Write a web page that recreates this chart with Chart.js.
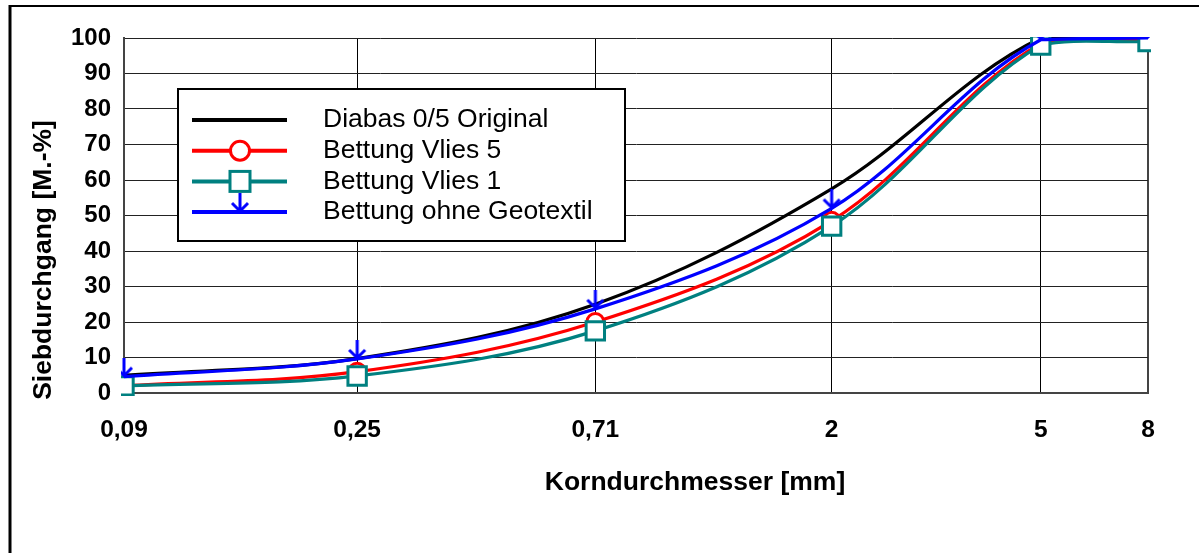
<!DOCTYPE html>
<html>
<head>
<meta charset="utf-8">
<script src="https://cdn.jsdelivr.net/npm/chart.js@4"></script>
<style>
  body { margin: 0; background: #fff; }
</style>
</head>
<body>
<canvas id="chart" width="1199" height="553"></canvas>
<script>
// grain size in mm (log axis) and passing percentages
const sizes = [0.09, 0.25, 0.71, 2, 5, 8];
const xTickLabels = ['0,09', '0,25', '0,71', '2', '5', '8'];
const seriesNames = ['Diabas 0/5 Original', 'Bettung Vlies 5', 'Bettung Vlies 1', 'Bettung ohne Geotextil'];
const original = [5, 9.7, 25, 57.5, 100, 100];
const vlies5 = [2, 6, 20, 48.5, 98.5, 99.5];
const vlies1 = [2, 4.8, 17.5, 47, 98, 99];
const ohneGeo = [4.6, 9.6, 23.7, 52, 99.5, 100];

const FONT = "'Liberation Sans', Arial, sans-serif";

// downward arrow marker, tip sits at the canvas centre
function arrowMarker(color) {
  const w = 20, h = 19;
  const c = document.createElement('canvas');
  c.width = w; c.height = h * 2;
  const g = c.getContext('2d');
  g.strokeStyle = color;
  g.lineWidth = 3;
  g.beginPath();
  g.moveTo(w / 2, 0); g.lineTo(w / 2, h);
  g.moveTo(2, h - 9); g.lineTo(w / 2, h - 1); g.lineTo(w - 2, h - 9);
  g.stroke();
  return c;
}
const arrow = arrowMarker('#0000ff');

const toPoints = arr => sizes.map((x, i) => ({ x: x, y: arr[i] }));

const datasets = [
  { label: seriesNames[0], data: toPoints(original), borderColor: '#000000', pointRadius: 0, order: 3 },
  { label: seriesNames[1], data: toPoints(vlies5), borderColor: '#ff0000', pointStyle: 'circle', pointRadius: 8.5, order: 2 },
  { label: seriesNames[2], data: toPoints(vlies1), borderColor: '#008080', pointStyle: 'rect', pointRadius: 13, order: 1 },
  { label: seriesNames[3], data: toPoints(ohneGeo), borderColor: '#0000ff', pointStyle: arrow, pointRadius: 10, order: 0 }
].map(d => Object.assign({
  borderWidth: 3.2,
  pointBorderColor: d.borderColor,
  pointBackgroundColor: '#ffffff',
  pointBorderWidth: 3,
  tension: 0.35,
  clip: { left: 3, right: 3, top: 1, bottom: 3 }
}, d));

const framePlugin = {
  id: 'frame',
  beforeDraw(chart) {
    const ctx = chart.ctx;
    ctx.save();
    ctx.fillStyle = '#fff';
    ctx.fillRect(0, 0, chart.width, chart.height);
    ctx.strokeStyle = '#000';
    ctx.lineWidth = 2;
    ctx.beginPath(); ctx.moveTo(10, 6); ctx.lineTo(chart.width, 6); ctx.stroke();
    ctx.lineWidth = 3;
    ctx.beginPath(); ctx.moveTo(10, 5); ctx.lineTo(10, chart.height); ctx.stroke();
    ctx.restore();
  },
  afterDraw(chart) {
    const ctx = chart.ctx;
    ctx.save();
    ctx.fillStyle = '#000';
    ctx.font = 'bold 26.5px ' + FONT;
    ctx.textAlign = 'center';
    ctx.textBaseline = 'middle';
    ctx.fillText('Korndurchmesser [mm]', 695, 483);
    ctx.translate(44, 260);
    ctx.rotate(-Math.PI / 2);
    ctx.fillText('Siebdurchgang [M.-%]', 0, 0);
    ctx.restore();
  }
};

// legend box inside the plot, as in the original
const boxLegend = {
  id: 'boxLegend',
  afterDraw(chart) {
    const ctx = chart.ctx;
    const bx = 178, by = 89, bw = 447, bh = 152;
    ctx.save();
    ctx.fillStyle = '#fff';
    ctx.fillRect(bx, by, bw, bh);
    ctx.strokeStyle = '#000';
    ctx.lineWidth = 2;
    ctx.strokeRect(bx, by, bw, bh);
    ctx.font = '26.5px ' + FONT;
    ctx.textBaseline = 'middle';
    chart.data.datasets.forEach((ds, i) => {
      const y = 120 + i * 30.7;
      ctx.strokeStyle = ds.borderColor;
      ctx.lineWidth = 4;
      ctx.beginPath(); ctx.moveTo(192, y); ctx.lineTo(287, y); ctx.stroke();
      const cx = 240;
      ctx.lineWidth = 3;
      if (ds.pointStyle === 'circle') {
        ctx.fillStyle = '#fff';
        ctx.beginPath(); ctx.arc(cx, y, 9.5, 0, Math.PI * 2); ctx.fill(); ctx.stroke();
      } else if (ds.pointStyle === 'rect') {
        ctx.fillStyle = '#fff';
        ctx.fillRect(cx - 10, y - 10, 20, 20);
        ctx.strokeRect(cx - 10, y - 10, 20, 20);
      } else if (ds.pointStyle instanceof HTMLCanvasElement) {
        ctx.drawImage(ds.pointStyle, cx - ds.pointStyle.width / 2, y - ds.pointStyle.height / 2);
      }
      ctx.fillStyle = '#000';
      ctx.fillText(ds.label, 323, y);
    });
    ctx.restore();
  }
};

new Chart(document.getElementById('chart'), {
  type: 'line',
  data: { datasets: datasets },
  options: {
    responsive: false,
    animation: false,
    devicePixelRatio: 1,
    layout: { padding: { left: 0, top: 38, right: 51, bottom: 100 } },
    plugins: { legend: { display: false }, tooltip: { enabled: false } },
    scales: {
      x: {
        type: 'logarithmic',
        min: 0.09,
        max: 8,
        afterBuildTicks: scale => { scale.ticks = sizes.map(v => ({ value: v })); },
        afterFit: scale => { scale.height = 60; },
        ticks: {
          autoSkip: false,
          maxRotation: 0,
          padding: 23,
          color: '#000',
          font: { family: FONT, size: 24.5, weight: 'bold' },
          callback: (value, i) => xTickLabels[i]
        },
        grid: {
          drawTicks: false,
          color: ctx => ctx.index === sizes.length - 1 ? '#444' : '#000',
          lineWidth: ctx => ctx.index === sizes.length - 1 ? 2 : 1
        },
        border: { color: '#444', width: 2 }
      },
      y: {
        min: 0,
        max: 100,
        afterFit: scale => { scale.width = 124; },
        ticks: {
          stepSize: 10,
          padding: 13,
          color: '#000',
          font: { family: FONT, size: 24, weight: 'bold' }
        },
        grid: { drawTicks: false, color: '#222', lineWidth: 1 },
        border: { color: '#444', width: 2 }
      }
    }
  },
  plugins: [framePlugin, boxLegend]
});
</script>
</body>
</html>
